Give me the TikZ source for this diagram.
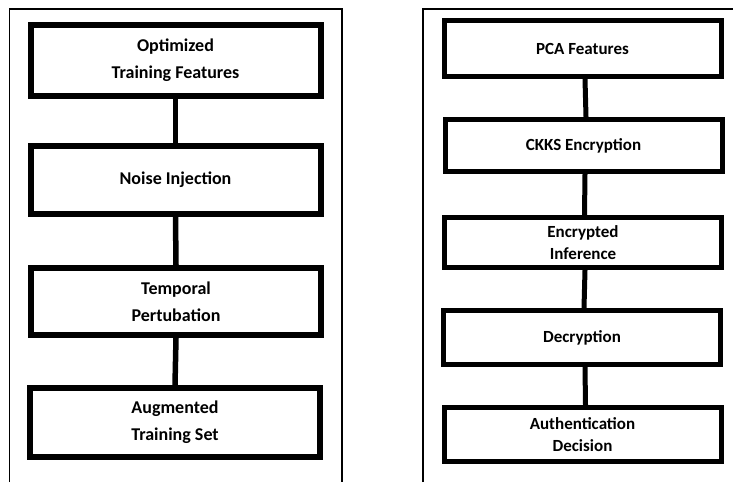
\documentclass[tikz,border=0pt]{standalone}
\usepackage{fontspec}
\setmainfont{Carlito}
\begin{document}
\begin{tikzpicture}[x=1pt,y=-1pt,
  frameline/.style={line width=1.4pt},
  lbox/.style={draw, line width=6pt, minimum width=290pt, inner sep=0pt, align=center,
     font=\bfseries\fontsize{18}{27}\selectfont},
  rbox/.style={draw, line width=5pt, minimum width=277pt, inner sep=0pt, align=center,
     font=\bfseries\fontsize{17}{22}\selectfont},
  lconn/.style={line width=5.5pt},
  rconn/.style={line width=5pt}]
\useasboundingbox (0,0) rectangle (733,482);
% panel frames
\draw[frameline] (9.5,482) -- (9.5,8.8) -- (342,8.8) -- (342,482);
\draw[frameline] (423,482) -- (423,8.8) -- (733,8.8);
% left chain
\node[lbox, minimum height=71pt] (l1) at (175.5,60) {Optimized\\Training Features};
\node[lbox, minimum height=68pt] (l2) at (175.5,180) {Noise Injection};
\node[lbox, minimum height=67pt] (l3) at (176,301.5) {Temporal\\Pertubation};
\node[lbox, minimum height=69pt] (l4) at (175,422.5) {Augmented\\Training Set};
\draw[lconn] (l1.south) -- (l2.north);
\draw[lconn] (l2.south) -- (l3.north);
\draw[lconn] (l3.south) -- (l4.north);
% right chain
\node[rbox, minimum height=56pt] (r1) at (582.5,48.5) {PCA Features};
\node[rbox, minimum height=52pt] (r2) at (583.5,145.5) {CKKS Encryption};
\node[rbox, minimum height=50pt] (r3) at (583,242.5) {Encrypted\\Inference};
\node[rbox, minimum height=54pt] (r4) at (582,337.5) {Decryption};
\node[rbox, minimum height=54pt] (r5) at (582.5,434.5) {Authentication\\Decision};
\draw[rconn] ([xshift=2.5pt]r1.south) -- ([xshift=2.5pt]r2.north);
\draw[rconn] ([xshift=1.5pt]r2.south) -- ([xshift=1.5pt]r3.north);
\draw[rconn] ([xshift=2pt]r3.south) -- ([xshift=2pt]r4.north);
\draw[rconn] ([xshift=3pt]r4.south) -- ([xshift=3pt]r5.north);
\end{tikzpicture}
\end{document}
